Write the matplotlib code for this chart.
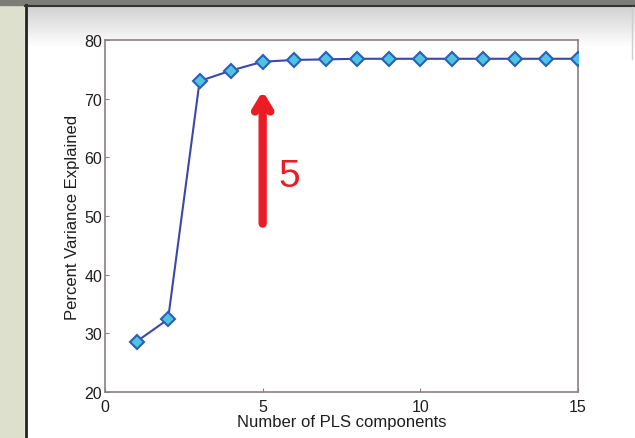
import numpy as np
import matplotlib
matplotlib.use('Agg')
import matplotlib.pyplot as plt
from matplotlib.patches import Rectangle

plt.rcParams['font.family'] = ['Liberation Sans', 'DejaVu Sans']

# PLS model: cumulative variance explained per number of components
n_components = [1, 2, 3, 4, 5, 6, 7, 8, 9, 10, 11, 12, 13, 14, 15]
pct_variance = [28.6, 32.4, 73.0, 74.8, 76.3, 76.6, 76.7, 76.8, 76.8, 76.8,
                76.8, 76.8, 76.8, 76.8, 76.8]
x_ticks = [0, 5, 10, 15]
y_ticks = [20, 30, 40, 50, 60, 70, 80]
chosen = 5

W, H = 635, 439
fig = plt.figure(figsize=(W / 100, H / 100), dpi=100, facecolor='white')

# slide-style frame around the plot
bg = fig.add_axes([0, 0, 1, 1], zorder=-5)
bg.axis('off')
bg.add_patch(Rectangle((0, 0), W, H, color='#dde0cd', zorder=0))
bg.add_patch(Rectangle((25, 6), W - 25, H, color='white', zorder=1))
grad = np.linspace(0.82, 1.0, 60).reshape(-1, 1)
bg.imshow(np.dstack([grad, grad, grad]), extent=[26, W, 48, 7], aspect='auto',
          interpolation='bilinear', zorder=2)
bg.add_patch(Rectangle((0, 0), W, 6, color='#7b7d76', zorder=3))
bg.plot([25.5, 25.5], [6, H], color='#222222', lw=2, zorder=4)
bg.plot([25, W], [6.5, 6.5], color='#333333', lw=1.5, zorder=4)
bg.plot([632, 632], [8, 60], color='#cfcfcf', lw=1, zorder=4)
bg.set_xlim(0, W)
bg.set_ylim(H, 0)

ax = fig.add_axes([105 / W, 1 - 393 / H, (578 - 105) / W, (393 - 41) / H])
ax.set_facecolor('white')
ax.plot(n_components, pct_variance, color='#3a48a8', lw=1.5, marker='D',
        markersize=7.5, markerfacecolor='#4fc3e3', markeredgecolor='#2b5fb8',
        markeredgewidth=1.5, zorder=3)

ax.set_xlim(0, 15)
ax.set_ylim(20, 80)
ax.set_xticks(x_ticks)
ax.set_yticks(y_ticks)
ax.tick_params(direction='in', length=3, color='#8a8080', labelsize=11.5,
               labelcolor='#1e1e1e', pad=2)
ax.tick_params(axis='x', pad=5)
for s in ax.spines.values():
    s.set_color('#8a8080')
    s.set_linewidth(1.2)
ax.set_xlabel('Number of PLS components', fontsize=12, color='#1e1e1e', labelpad=0)
ax.set_ylabel('Percent Variance Explained', fontsize=12, color='#1e1e1e', labelpad=3)

# mark the selected number of components
ax.annotate('', xy=(chosen, 71.3), xytext=(chosen, 48.7),
            arrowprops=dict(arrowstyle='->,head_length=0.9,head_width=0.55',
                            color='#ec1c24', lw=6, shrinkA=0, shrinkB=0))
ax.text(chosen + 0.85, 56.8, str(chosen), fontsize=28, color='#ec1c24',
        ha='center', va='center')

fig.savefig('out.png', dpi=100, facecolor=fig.get_facecolor())
